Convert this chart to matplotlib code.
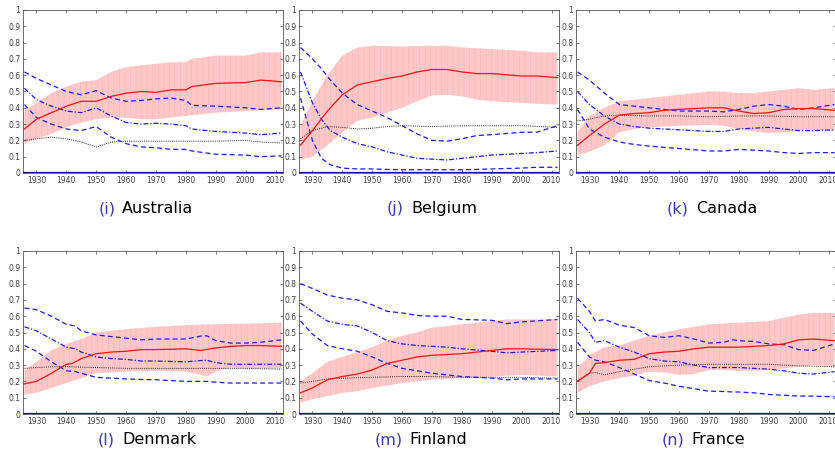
import matplotlib
matplotlib.use("Agg")
import matplotlib.pyplot as plt
from matplotlib.offsetbox import TextArea, HPacker, AnnotationBbox

plt.rcParams["hatch.linewidth"] = 0.6

# (label, country) for each panel
TAGS = ["(i)", "(j)", "(k)", "(l)", "(m)", "(n)"]
COUNTRIES = ["Australia", "Belgium", "Canada", "Denmark", "Finland", "France"]

# Australia
au_mean_yr = [1926, 1930, 1935, 1940, 1945, 1950, 1955, 1960, 1965, 1970, 1975, 1980, 1982, 1990, 2000, 2005, 2012]
au_mean = [0.27, 0.33, 0.37, 0.41, 0.44, 0.44, 0.47, 0.49, 0.50, 0.495, 0.51, 0.51, 0.53, 0.55, 0.555, 0.57, 0.56]
au_band_yr = [1926, 1930, 1935, 1940, 1945, 1950, 1955, 1960, 1965, 1970, 1975, 1980, 1982, 1990, 2000, 2005, 2012]
au_hi = [0.38, 0.43, 0.49, 0.53, 0.56, 0.57, 0.62, 0.65, 0.66, 0.67, 0.68, 0.68, 0.70, 0.72, 0.72, 0.74, 0.74]
au_lo = [0.18, 0.21, 0.24, 0.28, 0.31, 0.33, 0.34, 0.34, 0.33, 0.33, 0.34, 0.35, 0.355, 0.37, 0.38, 0.385, 0.39]
au_dot_yr = [1926, 1930, 1935, 1940, 1945, 1950, 1955, 1960, 1970, 1980, 1990, 2000, 2005, 2012]
au_dot = [0.20, 0.21, 0.22, 0.21, 0.19, 0.16, 0.19, 0.195, 0.195, 0.195, 0.195, 0.20, 0.19, 0.185]
au_q_yr = [1926, 1930, 1935, 1940, 1945, 1950, 1955, 1960, 1965, 1970, 1975, 1980, 1982, 1990, 2000, 2005, 2012]
au_q90 = [0.62, 0.58, 0.54, 0.50, 0.48, 0.505, 0.46, 0.44, 0.445, 0.455, 0.46, 0.445, 0.415, 0.41, 0.40, 0.39, 0.40]
au_q50 = [0.52, 0.45, 0.41, 0.38, 0.37, 0.40, 0.35, 0.31, 0.30, 0.305, 0.30, 0.29, 0.27, 0.255, 0.245, 0.235, 0.245]
au_q10 = [0.42, 0.34, 0.30, 0.27, 0.26, 0.285, 0.22, 0.18, 0.16, 0.155, 0.145, 0.145, 0.135, 0.115, 0.11, 0.10, 0.105]

# Belgium
be_mean_yr = [1926, 1930, 1935, 1940, 1945, 1950, 1955, 1960, 1965, 1970, 1975, 1980, 1985, 1990, 2000, 2005, 2012]
be_mean = [0.17, 0.26, 0.38, 0.48, 0.54, 0.56, 0.58, 0.595, 0.62, 0.635, 0.635, 0.62, 0.61, 0.61, 0.595, 0.595, 0.585]
be_band_yr = [1926, 1930, 1935, 1940, 1945, 1950, 1955, 1960, 1965, 1970, 1975, 1980, 1985, 1990, 2000, 2005, 2012]
be_hi = [0.29, 0.44, 0.60, 0.72, 0.77, 0.78, 0.78, 0.775, 0.78, 0.78, 0.78, 0.77, 0.765, 0.76, 0.75, 0.74, 0.74]
be_lo = [0.08, 0.10, 0.17, 0.25, 0.32, 0.34, 0.37, 0.40, 0.44, 0.475, 0.48, 0.47, 0.45, 0.44, 0.43, 0.425, 0.42]
be_dot_yr = [1926, 1930, 1935, 1940, 1945, 1950, 1955, 1960, 1970, 1980, 1990, 2000, 2012]
be_dot = [0.21, 0.26, 0.285, 0.28, 0.27, 0.275, 0.285, 0.29, 0.285, 0.29, 0.29, 0.29, 0.28]
be_q_yr = [1926, 1930, 1933, 1936, 1940, 1945, 1950, 1955, 1960, 1965, 1970, 1975, 1980, 1985, 1990, 2000, 2005, 2012]
be_q90 = [0.77, 0.70, 0.64, 0.57, 0.49, 0.42, 0.38, 0.34, 0.29, 0.24, 0.20, 0.195, 0.21, 0.23, 0.235, 0.25, 0.25, 0.29]
be_q50 = [0.62, 0.43, 0.33, 0.26, 0.22, 0.18, 0.16, 0.13, 0.11, 0.09, 0.085, 0.08, 0.09, 0.10, 0.11, 0.12, 0.125, 0.135]
be_q10 = [0.46, 0.20, 0.09, 0.05, 0.03, 0.025, 0.025, 0.022, 0.02, 0.02, 0.02, 0.02, 0.02, 0.022, 0.025, 0.03, 0.035, 0.035]

# Canada
ca_mean_yr = [1926, 1930, 1935, 1940, 1945, 1950, 1955, 1960, 1970, 1975, 1980, 1985, 1990, 1995, 2000, 2005, 2012]
ca_mean = [0.17, 0.23, 0.30, 0.355, 0.365, 0.37, 0.385, 0.39, 0.40, 0.40, 0.38, 0.365, 0.37, 0.39, 0.395, 0.395, 0.385]
ca_band_yr = [1926, 1930, 1935, 1940, 1945, 1950, 1960, 1970, 1975, 1980, 1985, 1990, 1995, 2000, 2005, 2012]
ca_hi = [0.25, 0.35, 0.40, 0.44, 0.45, 0.46, 0.48, 0.50, 0.50, 0.49, 0.49, 0.50, 0.51, 0.52, 0.51, 0.52]
ca_lo = [0.11, 0.13, 0.17, 0.25, 0.27, 0.28, 0.29, 0.295, 0.29, 0.27, 0.255, 0.245, 0.25, 0.26, 0.26, 0.26]
ca_dot_yr = [1926, 1930, 1935, 1940, 1950, 1960, 1970, 1980, 1990, 2000, 2012]
ca_dot = [0.32, 0.33, 0.35, 0.355, 0.35, 0.35, 0.345, 0.35, 0.35, 0.345, 0.345]
ca_q_yr = [1926, 1930, 1935, 1940, 1945, 1950, 1960, 1970, 1975, 1980, 1985, 1990, 1995, 2000, 2005, 2012]
ca_q90 = [0.62, 0.57, 0.49, 0.42, 0.41, 0.40, 0.38, 0.38, 0.375, 0.39, 0.41, 0.42, 0.41, 0.39, 0.40, 0.42]
ca_q50 = [0.50, 0.42, 0.35, 0.30, 0.285, 0.275, 0.265, 0.255, 0.255, 0.27, 0.275, 0.28, 0.27, 0.26, 0.26, 0.265]
ca_q10 = [0.39, 0.27, 0.22, 0.19, 0.175, 0.165, 0.15, 0.135, 0.135, 0.145, 0.14, 0.135, 0.125, 0.12, 0.125, 0.125]

# Denmark
dk_mean_yr = [1926, 1930, 1935, 1940, 1942, 1945, 1950, 1955, 1960, 1965, 1970, 1980, 1985, 1990, 1995, 2000, 2005, 2012]
dk_mean = [0.185, 0.20, 0.25, 0.305, 0.31, 0.34, 0.37, 0.38, 0.385, 0.395, 0.395, 0.40, 0.39, 0.405, 0.415, 0.42, 0.42, 0.415]
dk_band_yr = [1926, 1930, 1935, 1940, 1945, 1950, 1960, 1970, 1980, 1985, 1987, 1990, 1995, 2000, 2012]
dk_hi = [0.27, 0.32, 0.39, 0.43, 0.46, 0.50, 0.52, 0.535, 0.545, 0.548, 0.55, 0.55, 0.553, 0.555, 0.56]
dk_lo = [0.12, 0.13, 0.16, 0.19, 0.22, 0.25, 0.26, 0.265, 0.26, 0.24, 0.23, 0.26, 0.285, 0.28, 0.28]
dk_dot_yr = [1926, 1930, 1935, 1940, 1950, 1960, 1970, 1980, 1990, 2000, 2012]
dk_dot = [0.28, 0.285, 0.29, 0.29, 0.285, 0.28, 0.28, 0.28, 0.28, 0.28, 0.275]
dk_q_yr = [1926, 1930, 1935, 1940, 1943, 1945, 1950, 1955, 1960, 1965, 1970, 1980, 1985, 1987, 1990, 1995, 2000, 2005, 2012]
dk_q90 = [0.65, 0.64, 0.60, 0.55, 0.54, 0.51, 0.485, 0.475, 0.465, 0.455, 0.46, 0.46, 0.478, 0.48, 0.45, 0.435, 0.435, 0.44, 0.455]
dk_q50 = [0.535, 0.51, 0.46, 0.41, 0.40, 0.38, 0.35, 0.34, 0.335, 0.325, 0.325, 0.32, 0.328, 0.33, 0.315, 0.305, 0.305, 0.305, 0.305]
dk_q10 = [0.42, 0.385, 0.32, 0.265, 0.26, 0.25, 0.225, 0.22, 0.215, 0.212, 0.21, 0.20, 0.20, 0.20, 0.195, 0.19, 0.19, 0.19, 0.19]

# Finland
fi_mean_yr = [1926, 1930, 1935, 1940, 1945, 1950, 1955, 1960, 1965, 1970, 1980, 1990, 1995, 2000, 2012]
fi_mean = [0.13, 0.16, 0.21, 0.23, 0.245, 0.27, 0.31, 0.33, 0.35, 0.36, 0.37, 0.39, 0.40, 0.40, 0.395]
fi_band_yr = [1926, 1930, 1935, 1940, 1945, 1950, 1955, 1960, 1965, 1970, 1980, 1990, 1995, 2000, 2012]
fi_hi = [0.20, 0.25, 0.32, 0.35, 0.38, 0.41, 0.45, 0.48, 0.50, 0.53, 0.55, 0.57, 0.58, 0.58, 0.58]
fi_lo = [0.07, 0.09, 0.11, 0.13, 0.14, 0.16, 0.175, 0.19, 0.20, 0.21, 0.22, 0.23, 0.235, 0.24, 0.23]
fi_dot_yr = [1926, 1930, 1935, 1940, 1950, 1960, 1970, 1980, 1990, 2000, 2012]
fi_dot = [0.19, 0.20, 0.215, 0.22, 0.225, 0.23, 0.23, 0.225, 0.225, 0.225, 0.22]
fi_q_yr = [1926, 1930, 1935, 1940, 1945, 1950, 1955, 1960, 1965, 1970, 1975, 1980, 1990, 1995, 2000, 2012]
fi_q90 = [0.80, 0.77, 0.73, 0.71, 0.70, 0.67, 0.63, 0.62, 0.605, 0.60, 0.60, 0.58, 0.575, 0.555, 0.565, 0.58]
fi_q50 = [0.68, 0.63, 0.57, 0.55, 0.54, 0.50, 0.45, 0.43, 0.42, 0.415, 0.41, 0.40, 0.385, 0.375, 0.38, 0.39]
fi_q10 = [0.57, 0.49, 0.42, 0.40, 0.385, 0.35, 0.31, 0.28, 0.265, 0.25, 0.24, 0.23, 0.22, 0.21, 0.215, 0.215]

# France
fr_mean_yr = [1926, 1930, 1932, 1935, 1940, 1945, 1950, 1955, 1960, 1965, 1970, 1975, 1980, 1985, 1990, 1995, 2000, 2005, 2012]
fr_mean = [0.20, 0.25, 0.31, 0.315, 0.33, 0.335, 0.37, 0.38, 0.385, 0.40, 0.41, 0.41, 0.41, 0.415, 0.42, 0.43, 0.455, 0.46, 0.45]
fr_band_yr = [1926, 1930, 1935, 1940, 1945, 1950, 1955, 1960, 1965, 1970, 1975, 1980, 1990, 1995, 2000, 2005, 2012]
fr_hi = [0.28, 0.36, 0.41, 0.42, 0.45, 0.48, 0.50, 0.52, 0.535, 0.55, 0.555, 0.56, 0.57, 0.59, 0.61, 0.62, 0.62]
fr_lo = [0.13, 0.17, 0.20, 0.22, 0.235, 0.26, 0.255, 0.24, 0.245, 0.27, 0.27, 0.265, 0.27, 0.28, 0.29, 0.30, 0.29]
fr_dot_yr = [1926, 1930, 1932, 1935, 1940, 1945, 1950, 1955, 1960, 1970, 1980, 1990, 2000, 2012]
fr_dot = [0.205, 0.25, 0.255, 0.24, 0.26, 0.275, 0.29, 0.295, 0.30, 0.305, 0.305, 0.305, 0.295, 0.29]
fr_q_yr = [1926, 1930, 1932, 1935, 1940, 1945, 1950, 1955, 1960, 1965, 1970, 1975, 1978, 1980, 1985, 1990, 1995, 2000, 2005, 2012]
fr_q90 = [0.71, 0.63, 0.57, 0.58, 0.545, 0.53, 0.48, 0.47, 0.48, 0.46, 0.435, 0.44, 0.455, 0.45, 0.445, 0.43, 0.425, 0.395, 0.39, 0.43]
fr_q50 = [0.58, 0.50, 0.44, 0.45, 0.41, 0.38, 0.34, 0.325, 0.32, 0.30, 0.285, 0.285, 0.285, 0.285, 0.28, 0.275, 0.265, 0.25, 0.245, 0.26]
fr_q10 = [0.44, 0.35, 0.33, 0.32, 0.285, 0.245, 0.205, 0.19, 0.17, 0.155, 0.14, 0.138, 0.135, 0.135, 0.13, 0.12, 0.115, 0.11, 0.11, 0.105]

PANELS = [
    (au_mean_yr, au_mean, au_band_yr, au_hi, au_lo, au_dot_yr, au_dot, au_q_yr, au_q90, au_q50, au_q10),
    (be_mean_yr, be_mean, be_band_yr, be_hi, be_lo, be_dot_yr, be_dot, be_q_yr, be_q90, be_q50, be_q10),
    (ca_mean_yr, ca_mean, ca_band_yr, ca_hi, ca_lo, ca_dot_yr, ca_dot, ca_q_yr, ca_q90, ca_q50, ca_q10),
    (dk_mean_yr, dk_mean, dk_band_yr, dk_hi, dk_lo, dk_dot_yr, dk_dot, dk_q_yr, dk_q90, dk_q50, dk_q10),
    (fi_mean_yr, fi_mean, fi_band_yr, fi_hi, fi_lo, fi_dot_yr, fi_dot, fi_q_yr, fi_q90, fi_q50, fi_q10),
    (fr_mean_yr, fr_mean, fr_band_yr, fr_hi, fr_lo, fr_dot_yr, fr_dot, fr_q_yr, fr_q90, fr_q50, fr_q10),
]

W, H = 835, 455
fig = plt.figure(figsize=(W / 100, H / 100), dpi=100)

col_left = [23, 299, 576]
row_top = [10, 251]
ax_w, ax_h = 260, 163
caption_x = [146, 432, 712, 147, 421, 703]
caption_y = [209, 440]

BLUE = "#1a1aff"
for i, data in enumerate(PANELS):
    r, c = divmod(i, 3)
    x0, y0 = col_left[c], row_top[r]
    ax = fig.add_axes([x0 / W, 1 - (y0 + ax_h) / H, ax_w / W, ax_h / H])
    (m_yr, m, b_yr, hi, lo, d_yr, d, q_yr, q90, q50, q10) = data

    # pink spread band with faint vertical striping
    ax.fill_between(b_yr, lo, hi, facecolor="#ffc8c8", edgecolor="#ffbaba",
                    hatch="|||", linewidth=0, zorder=1)
    ax.plot(d_yr, d, color="#222222", ls=(0, (1, 1.2)), lw=0.7, zorder=3)
    ax.plot(q_yr, q90, color=BLUE, ls=(0, (4, 2.5)), lw=0.9, zorder=3)
    ax.plot(q_yr, q50, color=BLUE, ls=(0, (4, 1.5, 1, 1.5)), lw=0.9, zorder=3)
    ax.plot(q_yr, q10, color=BLUE, ls=(0, (4, 2.5)), lw=0.9, zorder=3)
    ax.plot(m_yr, m, color="#ff1010", lw=0.9, zorder=4)
    ax.axhline(0, color="#1010c0", lw=1.6, zorder=5)

    ax.set_xlim(1925.5, 2012.5)
    ax.set_ylim(0, 1)
    ax.set_xticks(range(1930, 2011, 10))
    ax.set_yticks([k / 10 for k in range(11)])
    ax.set_yticklabels(["0"] + [f"0.{k}" for k in range(1, 10)] + ["1"])
    ax.tick_params(direction="in", length=2.5, width=0.5, labelsize=5.5,
                   labelcolor="#404040", color="#404040", pad=2,
                   top=True, right=True)
    for s in ax.spines.values():
        s.set_color("#555555")
        s.set_linewidth(0.6)

    tag = TextArea(TAGS[i], textprops=dict(color="#3a3aa8", fontsize=11.5))
    name = TextArea(COUNTRIES[i], textprops=dict(color="black", fontsize=11.5))
    box = HPacker(children=[tag, name], sep=5, align="baseline")
    ab = AnnotationBbox(box, (caption_x[i] / W, 1 - caption_y[r] / H),
                        xycoords="figure fraction", frameon=False,
                        box_alignment=(0.5, 0.5), pad=0)
    fig.add_artist(ab)

fig.savefig("out.png", dpi=100)
